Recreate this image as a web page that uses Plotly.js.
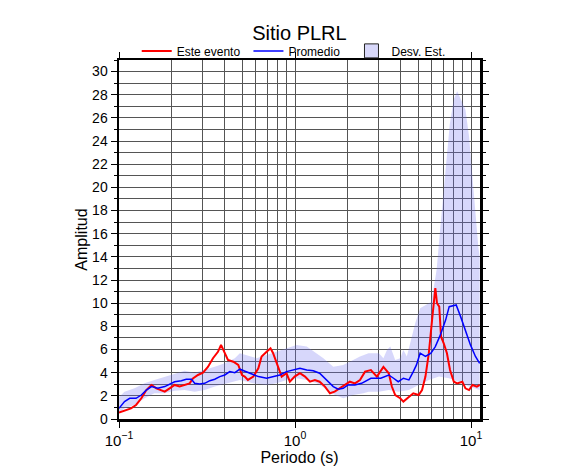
<!DOCTYPE html>
<html>
<head>
<meta charset="utf-8">
<script src="https://cdn.plot.ly/plotly-3.0.1.min.js"></script>
<style>html,body{margin:0;padding:0;background:#fff;}#chart{width:586px;height:475px;}</style>
</head>
<body>
<div id="chart"></div>
<script>
// Este evento (red)
const redT = [0.1, 0.1075, 0.117, 0.125, 0.134, 0.143, 0.153, 0.163, 0.174, 0.182, 0.194, 0.207, 0.221, 0.236, 0.252, 0.263, 0.281, 0.300, 0.320, 0.342, 0.365, 0.380, 0.399, 0.416, 0.446, 0.476, 0.500, 0.518, 0.540, 0.580, 0.619, 0.646, 0.690, 0.726, 0.750, 0.780, 0.810, 0.840, 0.895, 0.935, 0.995, 1.067, 1.14, 1.216, 1.297, 1.38, 1.48, 1.58, 1.68, 1.80, 1.92, 2.05, 2.19, 2.34, 2.50, 2.70, 2.92, 3.18, 3.41, 3.55, 3.71, 3.96, 4.13, 4.44, 4.70, 5.04, 5.27, 5.51, 5.76, 6.01, 6.27, 6.41, 6.60, 6.76, 7.00, 7.30, 7.60, 7.99, 8.35, 8.93, 9.30, 9.75, 10.2, 10.8, 11.2];
const redA = [0.55, 0.72, 0.92, 1.21, 1.79, 2.5, 2.94, 2.65, 2.5, 2.36, 2.65, 2.94, 2.8, 2.94, 3.08, 3.5, 3.8, 4.0, 4.5, 5.25, 5.8, 6.4, 5.7, 5.1, 4.95, 4.67, 3.8, 3.66, 3.37, 3.66, 4.38, 5.4, 5.8, 6.1, 5.7, 4.95, 4.23, 3.66, 3.95, 3.22, 3.66, 3.95, 3.66, 3.22, 3.37, 3.22, 2.8, 2.22, 2.36, 2.65, 2.94, 3.22, 3.08, 3.37, 4.09, 4.23, 3.66, 4.5, 3.95, 2.8, 2.07, 1.79, 1.5, 1.93, 2.22, 2.07, 2.5, 3.66, 5.68, 8.56, 11.3, 10.0, 9.7, 7.1, 6.54, 5.68, 4.23, 3.22, 3.08, 3.22, 2.65, 2.5, 2.94, 2.8, 2.94];

// Promedio (blue)
const blueT = [0.1, 0.1075, 0.115, 0.125, 0.134, 0.143, 0.153, 0.166, 0.182, 0.194, 0.207, 0.226, 0.241, 0.258, 0.269, 0.287, 0.307, 0.328, 0.35, 0.374, 0.399, 0.426, 0.455, 0.486, 0.53, 0.566, 0.62, 0.69, 0.75, 0.82, 0.895, 0.97, 1.067, 1.166, 1.27, 1.38, 1.52, 1.65, 1.76, 1.88, 2.0, 2.19, 2.39, 2.5, 2.7, 3.07, 3.41, 3.63, 3.86, 4.13, 4.44, 4.7, 4.9, 5.14, 5.51, 5.92, 6.27, 6.7, 7.18, 7.52, 8.24, 8.73, 9.3, 9.93, 10.6, 11.2];
const blueA = [0.92, 1.5, 1.79, 1.79, 2.07, 2.5, 2.8, 2.65, 2.8, 3.03, 3.22, 3.31, 3.43, 3.43, 3.08, 3.03, 3.08, 3.31, 3.43, 3.66, 3.8, 4.09, 4.0, 4.3, 4.09, 3.95, 3.66, 3.52, 3.66, 3.8, 4.09, 4.23, 4.38, 4.23, 4.17, 3.95, 3.37, 2.8, 2.57, 2.65, 2.94, 2.94, 3.08, 3.22, 3.52, 3.52, 3.8, 3.52, 3.22, 3.52, 3.37, 4.09, 4.67, 5.68, 5.4, 5.68, 6.25, 7.26, 8.56, 9.7, 9.85, 8.84, 7.55, 6.4, 5.4, 4.8];

// Desv. Est. band (upper / lower)
const upT = [0.1, 0.1075, 0.1225, 0.1397, 0.159, 0.1816, 0.207, 0.236, 0.269, 0.307, 0.35, 0.399, 0.455, 0.486, 0.53, 0.604, 0.689, 0.786, 0.896, 1.02, 1.166, 1.33, 1.45, 1.65, 1.88, 2.14, 2.34, 2.62, 2.74, 3.0, 3.18, 3.33, 3.48, 3.71, 3.96, 4.13, 4.32, 4.6, 4.82, 5.14, 5.49, 5.92, 6.2, 6.38, 6.7, 7.18, 7.58, 7.99, 8.35, 8.93, 9.3, 9.75, 10.1, 10.6, 11.0, 11.2];
const upA = [1.9, 2.36, 2.65, 3.08, 3.37, 3.66, 3.95, 4.17, 4.0, 4.23, 4.52, 4.81, 5.25, 5.68, 5.53, 5.25, 5.53, 5.82, 6.1, 6.4, 6.25, 5.68, 5.25, 4.52, 4.67, 5.1, 5.4, 5.68, 5.68, 5.68, 5.25, 5.96, 6.25, 5.1, 5.25, 5.96, 5.4, 7.1, 8.27, 9.57, 9.85, 10.1, 11.7, 12.9, 16.6, 21.5, 25.5, 27.6, 28.3, 27.3, 26.7, 24.4, 21.5, 18.1, 14.9, 14.0];
const loT = [0.1, 0.1075, 0.1225, 0.1397, 0.159, 0.1816, 0.207, 0.236, 0.269, 0.307, 0.35, 0.399, 0.455, 0.486, 0.578, 0.689, 0.786, 0.896, 1.02, 1.166, 1.33, 1.52, 1.69, 1.88, 2.14, 2.45, 2.62, 3.0, 3.41, 3.86, 4.44, 5.04, 5.76, 6.58, 7.5, 8.5, 9.75, 11.2];
const loA = [0.5, 0.92, 1.2, 1.79, 2.22, 2.22, 2.45, 2.5, 2.36, 2.5, 2.8, 3.02, 3.22, 3.37, 3.08, 2.94, 3.08, 3.37, 3.52, 3.37, 3.08, 2.5, 2.07, 1.79, 2.07, 2.22, 2.36, 2.36, 2.5, 2.36, 2.5, 2.94, 3.37, 3.66, 3.52, 3.22, 2.8, 2.5];

const seriesNames = ['Este evento\u00a0', 'Promedio\u00a0\u00a0', 'Desv. Est.'];
const xTickVals = [0.1, 1, 10];
const xTickText = ['10<sup>\u22121</sup>', '10<sup>0</sup>', '10<sup>1</sup>'];
const xMinorVals = [0.2,0.3,0.4,0.5,0.6,0.7,0.8,0.9,2,3,4,5,6,7,8,9];

const bandFill = 'rgba(110,110,240,0.28)';

const traces = [
  {x: loT, y: loA, type: 'scatter', mode: 'lines', line: {width: 0, color: 'rgba(0,0,0,0)'}, showlegend: false, hoverinfo: 'skip'},
  {x: upT, y: upA, type: 'scatter', mode: 'lines', fill: 'tonexty', fillcolor: bandFill, line: {width: 0, color: 'rgba(0,0,0,0)'}, showlegend: false, hoverinfo: 'skip'},
  {x: redT, y: redA, type: 'scatter', mode: 'lines', name: seriesNames[0], line: {color: '#ff0000', width: 2}},
  {x: blueT, y: blueA, type: 'scatter', mode: 'lines', name: seriesNames[1], line: {color: '#0000ff', width: 1.5}},
  {x: [null], y: [null], type: 'scatter', mode: 'markers', name: seriesNames[2], marker: {symbol: 'square', size: 14, color: 'rgb(216,216,250)', line: {color: '#222', width: 1}}}
];

const layout = {
  width: 586, height: 475,
  margin: {l: 119, r: 106, t: 60, b: 56},
  paper_bgcolor: '#fff', plot_bgcolor: '#fff',
  font: {family: 'Liberation Sans, Arial, sans-serif', color: '#000', size: 14},
  title: {text: 'Sitio PLRL', font: {size: 20, color: '#000'}, x: 0.511, xanchor: 'center', y: 1 - 33/475, yanchor: 'middle', yref: 'container'},
  showlegend: true,
  legend: {orientation: 'h', x: 0.484, xanchor: 'center', y: 0.985, yanchor: 'bottom', font: {size: 12}, bgcolor: 'rgba(0,0,0,0)', traceorder: 'normal', itemwidth: 30},
  xaxis: {
    type: 'log', range: [-1, Math.log10(11.25)],
    tickmode: 'array', tickvals: xTickVals, ticktext: xTickText,
    ticks: 'outside', ticklen: 6, tickwidth: 1, tickcolor: '#000',
    showgrid: true, gridcolor: '#555', gridwidth: 1,
    minor: {tickmode: 'array', tickvals: xMinorVals, showgrid: true, gridcolor: '#555', gridwidth: 1, ticks: ''},
    showline: true, linecolor: '#000', linewidth: 2.5, mirror: 'ticks',
    zeroline: false,
    tickfont: {size: 15},
    title: {text: 'Periodo (s)', font: {size: 16}, standoff: 5}
  },
  yaxis: {
    range: [0, 31], tickmode: 'linear', tick0: 0, dtick: 2,
    ticks: 'outside', ticklen: 6, tickwidth: 1, tickcolor: '#000',
    showgrid: true, gridcolor: '#555', gridwidth: 1,
    minor: {tickmode: 'linear', tick0: 0, dtick: 1, showgrid: true, gridcolor: '#555', gridwidth: 1, ticks: 'outside', ticklen: 3, tickcolor: '#000'},
    showline: true, linecolor: '#000', linewidth: 2.5, mirror: 'ticks',
    zeroline: false,
    tickfont: {size: 14},
    title: {text: 'Amplitud', font: {size: 16}, standoff: 1}
  }
};

Plotly.newPlot('chart', traces, layout, {displayModeBar: false, staticPlot: true});
</script>
</body>
</html>
